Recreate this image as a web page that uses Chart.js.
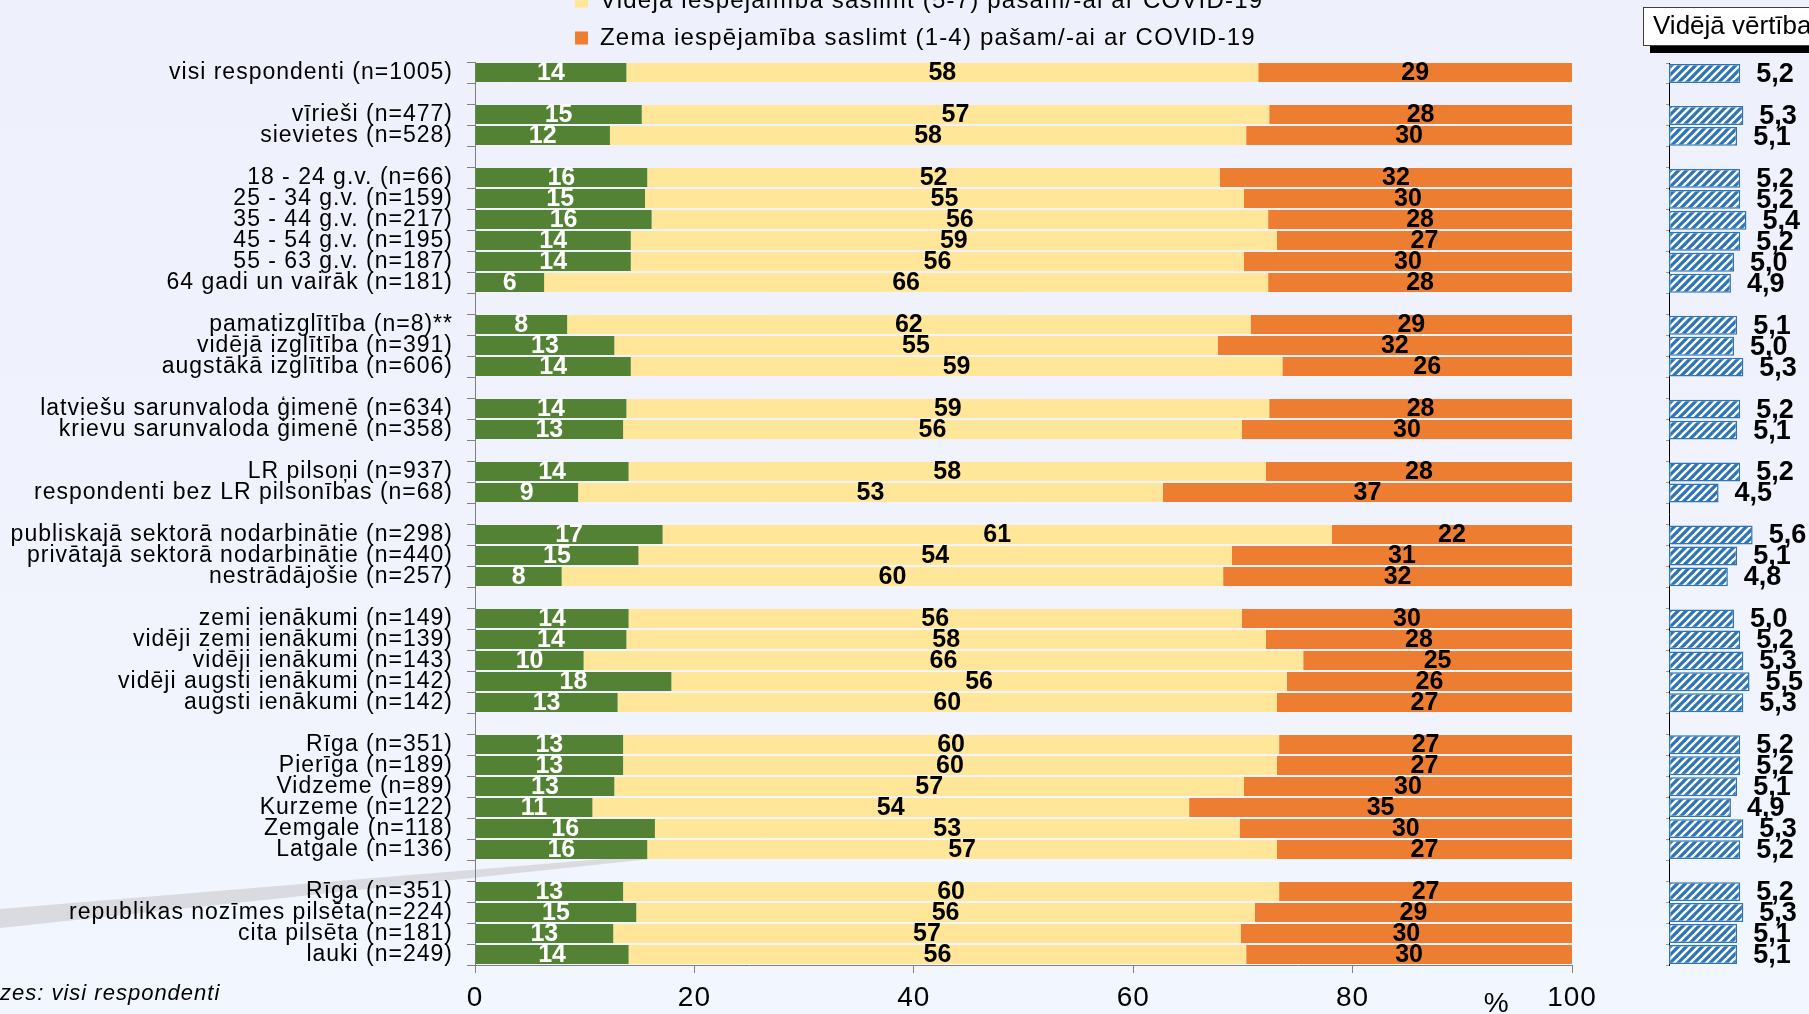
<!DOCTYPE html>
<html>
<head>
<meta charset="utf-8">
<script src="https://cdn.jsdelivr.net/npm/chart.js@4.4.1/dist/chart.umd.min.js"></script>
<style>
html,body{margin:0;padding:0;width:1809px;height:1014px;overflow:hidden;background:linear-gradient(#EEF0FB,#F2F6FE);}
#wrapMain{position:absolute;left:0;top:0;width:1640px;height:1014px;}
#wrapMean{position:absolute;left:562px;top:-61px;width:1247px;height:1075px;}
</style>
</head>
<body>
<div id="wrapMain"><canvas id="main"></canvas></div>
<div id="wrapMean"><canvas id="mean"></canvas></div>
<script>
// ---------- DATA ----------
const categories = [
  'visi respondenti (n=1005)', '',
  'vīrieši (n=477)', 'sievietes (n=528)', '',
  '18 - 24 g.v. (n=66)', '25 - 34 g.v. (n=159)', '35 - 44 g.v. (n=217)', '45 - 54 g.v. (n=195)', '55 - 63 g.v. (n=187)', '64 gadi un vairāk (n=181)', '',
  'pamatizglītība (n=8)**', 'vidējā izglītība (n=391)', 'augstākā izglītība (n=606)', '',
  'latviešu sarunvaloda ģimenē (n=634)', 'krievu sarunvaloda ģimenē (n=358)', '',
  'LR pilsoņi (n=937)', 'respondenti bez LR pilsonības (n=68)', '',
  'publiskajā sektorā nodarbinātie (n=298)', 'privātajā sektorā nodarbinātie (n=440)', 'nestrādājošie (n=257)', '',
  'zemi ienākumi (n=149)', 'vidēji zemi ienākumi (n=139)', 'vidēji ienākumi (n=143)', 'vidēji augsti ienākumi (n=142)', 'augsti ienākumi (n=142)', '',
  'Rīga (n=351)', 'Pierīga (n=189)', 'Vidzeme (n=89)', 'Kurzeme (n=122)', 'Zemgale (n=118)', 'Latgale (n=136)', '',
  'Rīga (n=351)', 'republikas nozīmes pilsēta(n=224)', 'cita pilsēta (n=181)', 'lauki (n=249)'
];

const seriesNames = [
  'Augsta iespējamība saslimt (8-10) pašam/-ai ar COVID-19',
  'Vidējā iespējamība saslimt (5-7) pašam/-ai ar COVID-19',
  'Zema iespējamība saslimt (1-4) pašam/-ai ar COVID-19'
];

// bar lengths (%)
const highVals = [13.8,null, 15.2,12.3,null, 15.7,15.5,16.1,14.2,14.2,6.3,null, 8.4,12.7,14.2,null, 13.8,13.5,null, 14.0,9.4,null, 17.1,14.9,7.9,null, 14.0,13.8,9.9,17.9,13.0,null, 13.5,13.5,12.7,10.7,16.4,15.7,null, 13.5,14.7,12.6,14.0];
const midVals  = [57.6,null, 57.2,58.0,null, 52.2,54.6,56.2,58.9,55.9,66.0,null, 62.3,55.0,59.4,null, 58.6,56.4,null, 58.1,53.3,null, 61.0,54.1,60.3,null, 55.9,58.3,65.6,56.1,60.1,null, 59.8,59.6,57.4,54.4,53.3,57.4,null, 59.8,56.4,57.2,56.3];
const lowVals  = [28.6,null, 27.6,29.7,null, 32.1,29.9,27.7,26.9,29.9,27.7,null, 29.3,32.3,26.4,null, 27.6,30.1,null, 27.9,37.3,null, 21.9,31.0,31.8,null, 30.1,27.9,24.5,26.0,26.9,null, 26.7,26.9,29.9,34.9,30.3,26.9,null, 26.7,28.9,30.2,29.7];

// printed labels (rounded %)
const highLbl = [14,null, 15,12,null, 16,15,16,14,14,6,null, 8,13,14,null, 14,13,null, 14,9,null, 17,15,8,null, 14,14,10,18,13,null, 13,13,13,11,16,16,null, 13,15,13,14];
const midLbl  = [58,null, 57,58,null, 52,55,56,59,56,66,null, 62,55,59,null, 59,56,null, 58,53,null, 61,54,60,null, 56,58,66,56,60,null, 60,60,57,54,53,57,null, 60,56,57,56];
const lowLbl  = [29,null, 28,30,null, 32,30,28,27,30,28,null, 29,32,26,null, 28,30,null, 28,37,null, 22,31,32,null, 30,28,25,26,27,null, 27,27,30,35,30,27,null, 27,29,30,30];

// mean value (scale 1-10)
const meanVals = [5.2,null, 5.3,5.1,null, 5.2,5.2,5.4,5.2,5.0,4.9,null, 5.1,5.0,5.3,null, 5.2,5.1,null, 5.2,4.5,null, 5.6,5.1,4.8,null, 5.0,5.2,5.3,5.5,5.3,null, 5.2,5.2,5.1,4.9,5.3,5.2,null, 5.2,5.3,5.1,5.1];

const xTicks = [0, 20, 40, 60, 80, 100];
const meanTitle = 'Vidējā vērtība';
const baseNote = 'Bāzes: visi respondenti';

// ---------- STYLE ----------
const FONT = "'Liberation Sans', Arial, sans-serif";
const C_HIGH = '#548235', C_MID = '#FFE699', C_LOW = '#ED7D31', C_BLUE = '#2E75B6';
const seriesColors = [C_HIGH, C_MID, C_LOW];
Chart.defaults.font.family = FONT;
Chart.defaults.animation = false;
Chart.defaults.color = '#000';

function hatchPattern() {
  const c = document.createElement('canvas');
  c.width = 8; c.height = 8;
  const g = c.getContext('2d');
  g.fillStyle = C_BLUE; g.fillRect(0, 0, 8, 8);
  g.strokeStyle = '#ffffff'; g.lineWidth = 2.4;
  g.beginPath();
  g.moveTo(-2, 10); g.lineTo(10, -2);
  g.moveTo(-2, 2); g.lineTo(2, -2);
  g.moveTo(6, 10); g.lineTo(10, 6);
  g.stroke();
  return g.createPattern(c, 'repeat');
}

// ---------- MAIN CHART ----------
const mainPlugin = {
  id: 'mainDeco',
  beforeDraw(chart) {
    const ctx = chart.ctx;
    ctx.save();
    ctx.fillStyle = '#D9DBE1';
    ctx.beginPath();
    ctx.moveTo(0, 909); ctx.lineTo(820, 841); ctx.lineTo(0, 928);
    ctx.closePath(); ctx.fill();
    ctx.restore();
    ctx.letterSpacing = '1px';
  },
  beforeDatasetsDraw(chart) { chart.ctx.letterSpacing = '0px'; },
  afterDatasetsDraw(chart) {
    const ctx = chart.ctx;
    ctx.save();
    ctx.letterSpacing = '0px';
    ctx.font = 'bold 25px ' + FONT;
    ctx.textAlign = 'center';
    ctx.textBaseline = 'middle';
    [highLbl, midLbl, lowLbl].forEach((arr, di) => {
      const meta = chart.getDatasetMeta(di);
      meta.data.forEach((bar, i) => {
        if (arr[i] == null) return;
        ctx.fillStyle = di === 0 ? '#ffffff' : '#000000';
        ctx.fillText(String(arr[i]), (bar.x + bar.base) / 2, bar.y + 1);
      });
    });
    ctx.restore();
  },
  afterDraw(chart) {
    const ctx = chart.ctx;
    ctx.save();
    ctx.letterSpacing = '1px';
    ctx.font = 'italic 22px ' + FONT;
    ctx.fillStyle = '#000';
    ctx.textAlign = 'left';
    ctx.textBaseline = 'alphabetic';
    const pre = ctx.measureText('Bā').width;
    ctx.fillText(baseNote, -pre, 1000);
    ctx.letterSpacing = '0px';
    ctx.font = '28px ' + FONT;
    ctx.textAlign = 'center';
    const xs = chart.scales.x;
    ctx.fillText('%', xs.getPixelForValue(93.1), 1012);
    ctx.restore();
  }
};

new Chart(document.getElementById('main'), {
  type: 'bar',
  data: {
    labels: categories,
    datasets: [
      { label: seriesNames[0], data: highVals, backgroundColor: C_HIGH },
      { label: seriesNames[1], data: midVals, backgroundColor: C_MID },
      { label: seriesNames[2], data: lowVals, backgroundColor: C_LOW }
    ]
  },
  options: {
    indexAxis: 'y',
    responsive: true,
    maintainAspectRatio: false,
    layout: { padding: { top: 62, right: 68, left: 0, bottom: 0 } },
    datasets: { bar: { categoryPercentage: 1, barPercentage: 0.9, borderWidth: 0 } },
    plugins: { legend: { display: false }, tooltip: { enabled: false } },
    scales: {
      x: {
        stacked: true, min: 0, max: 100,
        afterBuildTicks: s => { s.ticks = xTicks.map(v => ({ value: v })); },
        ticks: { font: { size: 28 }, color: '#000', padding: 8 },
        grid: { drawOnChartArea: false, tickLength: 8, color: '#808080' },
        border: { color: '#808080' },
        afterFit: s => { s.height = 49; }
      },
      y: {
        stacked: true,
        ticks: { font: { size: 23 }, color: '#000', padding: 14, autoSkip: false },
        grid: { offset: true, drawOnChartArea: false, tickLength: 8, color: '#808080' },
        border: { color: '#808080' },
        afterFit: s => { s.width = 475; }
      }
    }
  },
  plugins: [mainPlugin]
});

// ---------- MEAN VALUE CHART (with legend) ----------
const meanPlugin = {
  id: 'meanDeco',
  beforeLayout(chart) { chart.ctx.letterSpacing = '1.2px'; },
  beforeDraw(chart) { chart.ctx.letterSpacing = '1.2px'; },
  beforeDatasetsDraw(chart) { chart.ctx.letterSpacing = '0px'; },
  afterDatasetsDraw(chart) {
    const ctx = chart.ctx;
    ctx.save();
    ctx.letterSpacing = '0px';
    ctx.font = 'bold 27px ' + FONT;
    ctx.fillStyle = '#000';
    ctx.textAlign = 'left';
    ctx.textBaseline = 'middle';
    const meta = chart.getDatasetMeta(0);
    meta.data.forEach((bar, i) => {
      if (meanVals[i] == null) return;
      ctx.fillText(meanVals[i].toFixed(1).replace('.', ','), bar.x + 16, bar.y + 1);
    });
    ctx.restore();
  },
  afterDraw(chart) {
    const ctx = chart.ctx;
    const oy = 61;
    ctx.save();
    ctx.letterSpacing = '0px';
    ctx.fillStyle = '#000';
    ctx.fillRect(1088, 46 + oy, 400, 7);
    ctx.fillStyle = '#ffffff';
    ctx.fillRect(1081, 7 + oy, 400, 39);
    ctx.strokeStyle = '#404040';
    ctx.lineWidth = 1;
    ctx.strokeRect(1081.5, 7.5 + oy, 400, 38);
    ctx.fillStyle = '#000';
    ctx.font = '26px ' + FONT;
    ctx.textAlign = 'left';
    ctx.textBaseline = 'middle';
    ctx.fillText(meanTitle, 1091, 27 + oy);
    ctx.restore();
  }
};

new Chart(document.getElementById('mean'), {
  type: 'bar',
  data: {
    labels: categories,
    datasets: [{
      label: meanTitle, data: meanVals,
      backgroundColor: hatchPattern(), borderColor: C_BLUE, borderWidth: 1.5,
      base: 2.9, borderSkipped: false
    }]
  },
  options: {
    indexAxis: 'y',
    responsive: true,
    maintainAspectRatio: false,
    layout: { padding: { top: 0, right: 13, left: 0, bottom: 49 } },
    datasets: { bar: { categoryPercentage: 1, barPercentage: 0.9 } },
    plugins: {
      tooltip: { enabled: false },
      legend: {
        display: true, position: 'top', align: 'start', onClick: null,
        labels: {
          boxWidth: 13, boxHeight: 13, padding: 13,
          font: { size: 24 }, color: '#000',
          generateLabels: () => seriesNames.map((t, i) => ({
            text: t, fillStyle: seriesColors[i], strokeStyle: seriesColors[i],
            lineWidth: 0, hidden: false, datasetIndex: 0
          }))
        }
      }
    },
    scales: {
      x: {
        position: 'top', min: 2.9, max: 7,
        ticks: { display: false }, grid: { display: false }, border: { display: false },
        afterFit: s => { s.height = 3; }
      },
      y: {
        ticks: { display: false },
        grid: { offset: true, drawOnChartArea: false, tickLength: 3, color: '#999' },
        border: { color: '#000' },
        afterFit: s => { s.width = 1107; }
      }
    }
  },
  plugins: [meanPlugin]
});
</script>
</body>
</html>
